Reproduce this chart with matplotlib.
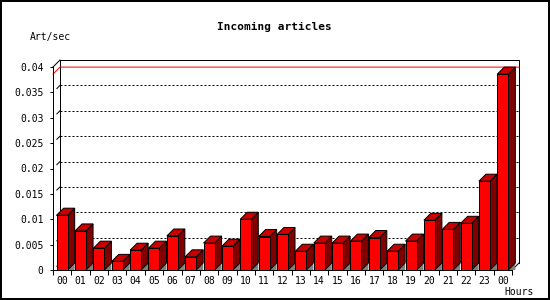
import matplotlib
matplotlib.use('Agg')
import matplotlib.pyplot as plt
from matplotlib.patches import Polygon, Rectangle
from matplotlib.lines import Line2D

# data
hours = ['00', '01', '02', '03', '04', '05', '06', '07', '08', '09', '10', '11',
         '12', '13', '14', '15', '16', '17', '18', '19', '20', '21', '22', '23', '00']
rates = [0.0108, 0.0077, 0.0043, 0.0017, 0.0039, 0.0043, 0.0067, 0.0026, 0.0053,
         0.0047, 0.0100, 0.0066, 0.0070, 0.0037, 0.0053, 0.0053, 0.0057, 0.0064,
         0.0037, 0.0057, 0.0098, 0.0080, 0.0092, 0.0175, 0.0386]
yticks = [0, 0.005, 0.01, 0.015, 0.02, 0.025, 0.03, 0.035, 0.04]
ytick_labels = ['0', '0.005', '0.01', '0.015', '0.02', '0.025', '0.03', '0.035', '0.04']

W, H = 550, 300
mono = 'DejaVu Sans Mono'
px = 0.72  # one pixel in points

fig = plt.figure(figsize=(W / 100, H / 100), dpi=100)
ax = fig.add_axes([53 / W, 30 / H, 459 / W, 203 / H])
n = len(hours)
ax.set_xlim(-0.5, n - 0.5)
ax.set_ylim(0, 0.04)
ax.patch.set_visible(False)

# 3d depth: 7 px right and up, in data units
inv = ax.transData.inverted()
p0 = inv.transform((0, 0))
p1 = inv.transform((7, 7))
dx, dy = p1[0] - p0[0], p1[1] - p0[1]
xl, xr = -0.5, n - 0.5
ymax = yticks[-1]

def line(xs, ys, **kw):
    ax.add_line(Line2D(xs, ys, clip_on=False, **kw))

# back wall
line([xl + dx, xl + dx, xr + dx, xr + dx], [dy, ymax + dy, ymax + dy, dy], color='black', lw=px, zorder=1)
line([xl, xl + dx], [ymax, ymax + dy], color='black', lw=px, zorder=1)
line([xr, xr + dx], [0, dy], color='black', lw=px, zorder=1)
for t in yticks[1:-1]:
    line([xl + dx, xr + dx], [t + dy, t + dy], color='black', lw=px, ls=(0, (2, 2)), zorder=1)
for t in yticks[:-1]:
    line([xl + 0.55 * dx, xl + dx], [t + 0.55 * dy, t + dy], color='black', lw=px, zorder=1)

# max line
top = max(rates)
line([xl, xl + dx, xr + dx], [top, top + dy, top + dy], color='red', lw=px, zorder=1.5)

# bars
bw = 0.6
for i, v in enumerate(rates):
    a, b = i - bw / 2, i + bw / 2
    ax.add_patch(Polygon([(b, 0), (b + dx, dy), (b + dx, 0)], closed=True,
                         facecolor='#808080', edgecolor='none', clip_on=False, zorder=2))
    ax.add_patch(Polygon([(b, 0), (b, v), (b + dx, v + dy), (b + dx, dy)], closed=True,
                         facecolor='#800000', edgecolor='black', lw=px, clip_on=False, zorder=2))
    ax.add_patch(Polygon([(a, v), (b, v), (b + dx, v + dy), (a + dx, v + dy)], closed=True,
                         facecolor='#c80000', edgecolor='black', lw=px, clip_on=False, zorder=2))
ax.bar(range(n), rates, width=bw, color='#ff0000', edgecolor='black', lw=px, zorder=3, clip_on=False)

# axes
for s in ['top', 'right']:
    ax.spines[s].set_visible(False)
for s in ['left', 'bottom']:
    ax.spines[s].set_linewidth(px)
    ax.spines[s].set_zorder(4)
ax.set_yticks(yticks)
ax.set_yticklabels(ytick_labels, family=mono, fontsize=7)
ax.set_xticks([i - 0.5 for i in range(n + 1)])
ax.set_xticklabels([])
ax.set_xticks(range(n), minor=True)
ax.set_xticklabels(hours, minor=True, family=mono, fontsize=7)
ax.tick_params(axis='y', length=2.2, width=px, pad=4.5)
ax.tick_params(axis='x', which='major', length=3.6, width=px)
ax.tick_params(axis='x', which='minor', length=0, pad=4)

fig.text(274 / W, 1 - 27 / H, 'Incoming articles', ha='center', va='center',
         family=mono, fontweight='bold', fontsize=8)
fig.text(30 / W, 1 - 37 / H, 'Art/sec', ha='left', va='center', family=mono, fontsize=7)
fig.text(534 / W, 1 - 292 / H, 'Hours', ha='right', va='center', family=mono, fontsize=7)

fig.patches.append(Rectangle((1 / W, 1 / H), 548 / W, 298 / H, transform=fig.transFigure,
                             fill=False, edgecolor='black', lw=1.44))

fig.savefig('out.png', dpi=100)
